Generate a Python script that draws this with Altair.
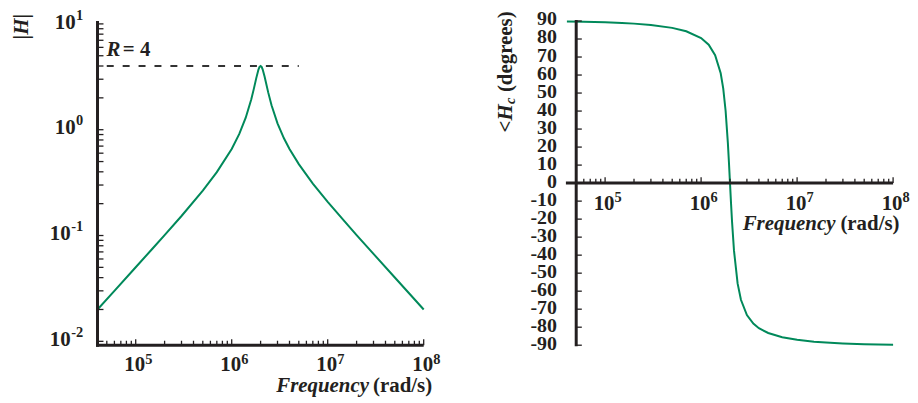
import altair as alt
import pandas as pd

FONT = "Liberation Serif"
INK = "#231f20"
GREEN = "#00895a"
FS = 21      # main text size
ES = 14.5    # exponent / subscript size

# ---- data ----
freq = [4e4, 6e4, 1e5, 1.5e5, 2e5, 3e5, 5e5, 7e5,
        1e6, 1.2e6, 1.4e6, 1.6e6, 1.7e6, 1.8e6, 1.9e6, 1.95e6,
        2e6,
        2.05e6, 2.1e6, 2.2e6, 2.4e6, 2.6e6,
        3e6, 3.5e6, 4e6, 5e6, 7e6,
        1e7, 1.5e7, 2e7, 3e7, 5e7, 7e7, 1e8]
mag = [0.020, 0.030, 0.0501, 0.0754, 0.101, 0.153, 0.266, 0.397,
       0.658, 0.913, 1.298, 1.943, 2.432, 3.056, 3.700, 3.920,
       4.0,
       3.924, 3.726, 3.179, 2.253, 1.704,
       1.149, 0.830, 0.658, 0.473, 0.310,
       0.208, 0.136, 0.101, 0.0670, 0.0401, 0.0286, 0.0200]
phase = [89.71, 89.57, 89.28, 88.92, 88.55, 87.80, 86.19, 84.31,
         80.54, 76.81, 71.06, 60.95, 52.55, 40.18, 22.32, 11.45,
         0.0,
         -11.17, -21.33, -37.36, -55.71, -64.78,
         -73.30, -78.02, -80.54, -83.21, -85.55,
         -87.02, -88.06, -88.55, -89.04, -89.43, -89.59, -89.71]

ref_level = 4.0          # R = 4 dashed line
ref_end = 5e6
phase_axis_at = 5e4      # where the phase plot's vertical axis crosses

x_decades = [1e5, 1e6, 1e7, 1e8]
x_exps = ["5", "6", "7", "8"]
y_decades = [10, 1, 0.1, 0.01]
y_exps = ["1", "0", "-1", "-2"]
phase_ticks = [-90, -80, -70, -60, -50, -40, -30, -20, -10, 0,
               10, 20, 30, 40, 50, 60, 70, 80, 90]
phase_labels = [str(v) for v in phase_ticks]

x_minor = [k * 10 ** e for e in range(4, 8) for k in range(2, 10) if 5e4 <= k * 10 ** e <= 1e8]
y_minor = [k * 10.0 ** e for e in range(-2, 1) for k in range(2, 10)]

W, H = 328, 326

curve = pd.DataFrame({"f": freq, "m": mag, "p": phase})
xdec = pd.DataFrame({"f": x_decades, "e": x_exps})
ydec = pd.DataFrame({"v": y_decades, "e": y_exps})
xmin = pd.DataFrame({"f": x_minor})
ymin_all = pd.DataFrame({"v": y_minor + y_decades})
ref = pd.DataFrame({"f0": [4e4], "f1": [ref_end], "m": [ref_level]})
pt = pd.DataFrame({"v": phase_ticks, "t": phase_labels})
one = pd.DataFrame({"a": [0]})

xsL = alt.Scale(type="log", domain=[4e4, 1e8], nice=False)
ysL = alt.Scale(type="log", domain=[0.00919, 10.65], nice=False)
xsR = alt.Scale(type="log", domain=[4e4, 1e8], nice=False)
ysR = alt.Scale(type="linear", domain=[-90, 90], nice=False, zero=False)


def txt(text, x, y, size=FS, italic=False, align="left", angle=0, baseline="alphabetic"):
    kw = dict(text=text, font=FONT, fontSize=size, fontWeight="bold", color=INK,
              align=align, baseline=baseline)
    if italic:
        kw["fontStyle"] = "italic"
    if angle:
        kw["angle"] = angle
    return alt.Chart(one).mark_text(**kw).encode(x=alt.value(x), y=alt.value(y))


def line(x, x2, y, y2, w=3, opacity=1.0):
    return alt.Chart(one).mark_rule(color=INK, strokeWidth=w, opacity=opacity).encode(
        x=alt.value(x), x2=alt.value(x2), y=alt.value(y), y2=alt.value(y2))


# ---------------- left panel ----------------
mag_line = alt.Chart(curve).mark_line(color=GREEN, strokeWidth=2).encode(
    x=alt.X("f:Q", scale=xsL, axis=None),
    y=alt.Y("m:Q", scale=ysL, axis=None),
)
ref_rule = alt.Chart(ref).mark_rule(color="#333333", strokeWidth=2, strokeDash=[7, 9],
                                    strokeDashOffset=6.7).encode(
    x=alt.X("f0:Q", scale=xsL, axis=None), x2="f1:Q",
    y=alt.Y("m:Q", scale=ysL, axis=None),
)
yticksL = alt.Chart(ymin_all).mark_rule(color=INK, strokeWidth=1.3).encode(
    y=alt.Y("v:Q", scale=ysL, axis=None), x=alt.value(0), x2=alt.value(6))
xminL = alt.Chart(xmin).mark_rule(color=INK, strokeWidth=1.3).encode(
    x=alt.X("f:Q", scale=xsL, axis=None), y=alt.value(H), y2=alt.value(H - 4.5))
xmajL = alt.Chart(xdec).mark_rule(color=INK, strokeWidth=1.3).encode(
    x=alt.X("f:Q", scale=xsL, axis=None), y=alt.value(H), y2=alt.value(H - 6))
xbaseL = alt.Chart(xdec).mark_text(text="10", font=FONT, fontSize=FS, fontWeight="bold",
                                   color=INK, align="center", baseline="alphabetic", dx=-1).encode(
    x=alt.X("f:Q", scale=xsL, axis=None), y=alt.value(H + 25.5))
xexpL = alt.Chart(xdec).mark_text(font=FONT, fontSize=ES, fontWeight="bold", color=INK,
                                  align="left", baseline="alphabetic", dx=9.5).encode(
    x=alt.X("f:Q", scale=xsL, axis=None), y=alt.value(H + 18.5), text="e:N")


def ylabels(filter_expr, split):
    base = alt.Chart(ydec).transform_filter(filter_expr).mark_text(
        text="10", font=FONT, fontSize=FS, fontWeight="bold", color=INK,
        align="right", baseline="alphabetic", dy=4.7).encode(
        x=alt.value(split), y=alt.Y("v:Q", scale=ysL, axis=None))
    ex = alt.Chart(ydec).transform_filter(filter_expr).mark_text(
        font=FONT, fontSize=ES, fontWeight="bold", color=INK,
        align="left", baseline="alphabetic", dy=-4.3).encode(
        x=alt.value(split + 0.5), y=alt.Y("v:Q", scale=ysL, axis=None), text="e:N")
    return [base, ex]


left_layers = [
    # invisible anchor fixing the chart's top-left extent
    line(-95, -94, -20, -20, w=0.1, opacity=0),
    mag_line, ref_rule, yticksL, xminL, xmajL, xbaseL, xexpL,
    line(0, 0, 0, H + 1.5), line(-1.5, W, H, H)]
left_layers += ylabels("length(datum.e) == 1", -22)
left_layers += ylabels("length(datum.e) == 2", -27)
left_layers += [
    txt("|", -70, 18.5, angle=270),
    txt("H", -70, 13.9, italic=True, angle=270),
    txt("|", -70, -2.4, angle=270),
    txt("R", 9, 35, italic=True),
    txt("= 4", 25.5, 35),
    txt("Frequency", 273, H + 47, italic=True, align="right"),
    txt("(rad/s)", 277, H + 47),
]
left = alt.layer(*left_layers).properties(width=W, height=H)

# ---------------- right panel ----------------
y0 = alt.YDatum(0, type="quantitative", scale=ysR, axis=None)
xa = alt.XDatum(phase_axis_at, type="quantitative", scale=xsR, axis=None)
phase_line = alt.Chart(curve).mark_line(color=GREEN, strokeWidth=2).encode(
    x=alt.X("f:Q", scale=xsR, axis=None),
    y=alt.Y("p:Q", scale=ysR, axis=None),
)
xaxisR = alt.Chart(one).mark_rule(color=INK, strokeWidth=3).encode(
    y=y0, x=alt.value(-1), x2=alt.value(W))
yaxisR = alt.Chart(one).mark_rule(color=INK, strokeWidth=3).encode(
    x=xa, y=alt.value(-1), y2=alt.value(H + 1))
yticksR = alt.Chart(pt).mark_rule(color=INK, strokeWidth=1.3).encode(
    y=alt.Y("v:Q", scale=ysR, axis=None), x=xa, x2=alt.value(15))
ylabR = alt.Chart(pt).mark_text(font=FONT, fontSize=20, fontWeight="bold", color=INK,
                                align="right", baseline="alphabetic", dy=4.5).encode(
    y=alt.Y("v:Q", scale=ysR, axis=None), x=alt.value(-10), text="t:N")
xminR = alt.Chart(xmin).mark_rule(color=INK, strokeWidth=1.3).encode(
    x=alt.X("f:Q", scale=xsR, axis=None), y=y0, y2=alt.value(H / 2 - 4.5))
xmajR = alt.Chart(xdec).mark_rule(color=INK, strokeWidth=1.3).encode(
    x=alt.X("f:Q", scale=xsR, axis=None), y=y0, y2=alt.value(H / 2 - 6))
xbaseR = alt.Chart(xdec).mark_text(text="10", font=FONT, fontSize=FS, fontWeight="bold",
                                   color=INK, align="center", baseline="alphabetic",
                                   dx=-1, dy=27).encode(
    x=alt.X("f:Q", scale=xsR, axis=None), y=y0)
xexpR = alt.Chart(xdec).mark_text(font=FONT, fontSize=ES, fontWeight="bold", color=INK,
                                  align="left", baseline="alphabetic", dx=9.5, dy=19).encode(
    x=alt.X("f:Q", scale=xsR, axis=None), y=y0, text="e:N")

right_layers = [phase_line, xaxisR, yaxisR, yticksR, ylabR, xminR, xmajR, xbaseR, xexpR,
                txt("<", -55, 112, angle=270),
                txt("H", -55, 100, italic=True, angle=270),
                txt("c", -51.7, 83.5, size=ES, italic=True, angle=270),
                txt("(degrees)", -55, 71.5, angle=270),
                txt("Frequency", 270, 210, italic=True, align="right"),
                txt("(rad/s)", 275, 210)]
right = alt.layer(*right_layers).properties(width=W, height=H)

chart = alt.hconcat(left, right, spacing=144, bounds="flush").properties(
    padding={"left": -5, "top": -8, "right": 0, "bottom": 0}
).configure_view(strokeWidth=0)

chart.save("out.html", embed_options={"renderer": "svg", "actions": False})
